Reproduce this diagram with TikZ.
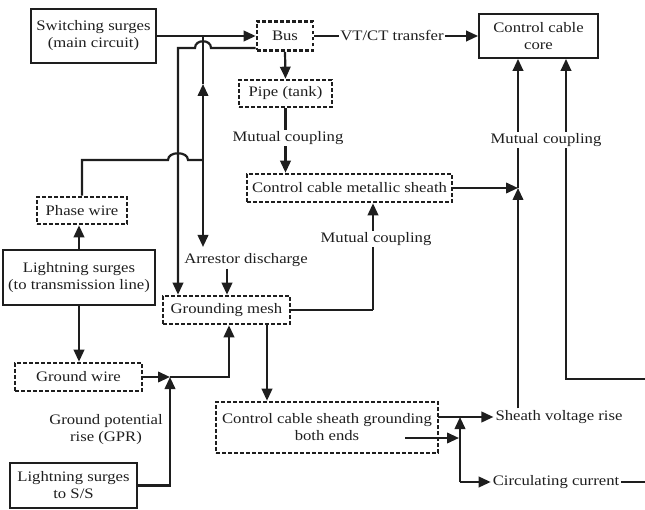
\documentclass[tikz,border=0pt]{standalone}
\usepackage{fontspec}
\setmainfont{Liberation Serif}[FakeStretch=1.15]
\usetikzlibrary{arrows.meta,calc}
\definecolor{ink}{RGB}{30,30,30}
\begin{document}
\begin{tikzpicture}[x=1pt,y=-1pt,
  font=\fontsize{14.5}{17}\selectfont,
  color=ink, line width=2.2pt,
  arr/.style={-{Triangle[length=12pt,width=10.5pt]}},
  solidbox/.style={draw, line width=1.8pt, align=center, inner sep=0pt},
  dashbox/.style={draw, line width=2.6pt, dash pattern=on 3.6pt off 2.4pt, align=center, inner sep=0pt},
  lbl/.style={align=center, inner sep=1pt},
  cut/.style={fill=white, inner sep=1.5pt}
]
\useasboundingbox (0,0) rectangle (645,510);

% boxes
\node[solidbox, minimum width=125pt, minimum height=54pt] (ss) at (93.5,36) {Switching surges\\(main circuit)};
\node[dashbox, minimum width=56pt, minimum height=29pt] (bus) at (285,36) {Bus};
\node[solidbox, minimum width=119pt, minimum height=44pt] (core) at (538.5,36) {Control cable\\core};
\node[dashbox, minimum width=93pt, minimum height=27pt] (pipe) at (285.5,93.5) {Pipe (tank)};
\node[dashbox, minimum width=205pt, minimum height=28pt] (sheath) at (349.5,188) {Control cable metallic sheath};
\node[dashbox, minimum width=90pt, minimum height=27pt] (phase) at (82,210.5) {Phase wire};
\node[solidbox, minimum width=152pt, minimum height=55pt] (lt) at (79,277.5) {Lightning surges\\(to transmission line)};
\node[dashbox, minimum width=127pt, minimum height=28pt] (mesh) at (226.5,310) {Grounding mesh};
\node[dashbox, minimum width=127pt, minimum height=28pt] (gw) at (78.5,377) {Ground wire};
\node[solidbox, minimum width=127pt, minimum height=45pt] (ls) at (73.5,485.5) {Lightning surges\\to S/S};
\node[dashbox, minimum width=222pt, minimum height=51pt] (sg) at (327,427.5) {Control cable sheath grounding\\both ends};

% free labels
\node[lbl] (arrest) at (246,260) {Arrestor discharge};
\node[lbl] (gpr) at (106,430) {Ground potential\\rise (GPR)};
\node[lbl] (svr) at (559,417) {Sheath voltage rise};
\node[lbl] (cc) at (556,482) {Circulating current};

% helper coordinates
\coordinate (xA) at (178,0);
\coordinate (xB) at (227,0);
\coordinate (xC) at (373,0);
\coordinate (xD) at (267,0);
\coordinate (xE) at (229,0);
\coordinate (xF) at (518,0);
\coordinate (xG) at (566,0);
\coordinate (J0) at (203,160);
\coordinate (Jup) at (203,84);
\coordinate (Jtop) at (203,36);
\coordinate (Jdn) at (203,247);
\coordinate (J1) at (518,188);
\coordinate (J2) at (460,417);
\coordinate (J3) at (460,482);
\coordinate (J4) at (170,377);
\coordinate (lsTurn) at (170,485.5);
\coordinate (gwTurn) at (229,377);
\coordinate (meshTurn) at (373,310);
\coordinate (loopIn) at (645,379);
\coordinate (loopTurn) at (566,379);
\coordinate (ccOut) at (645,482);
\coordinate (sgOut) at (438,417);
\coordinate (endsIn) at (405,438);
\coordinate (endsTip) at (459,438);

% main circuit
\draw[arr] (ss.east) -- (bus.west);
\draw[arr] (bus.east) -- (core.west);
\node[cut] (vtct) at (392,36) {VT/CT transfer};
\draw[arr] (bus.south) -- (pipe.north);
\draw[arr] (pipe.south) -- (pipe.south |- sheath.north);
\node[cut] (mc1) at (288,138) {Mutual coupling};

% bus to grounding mesh, hopping over the surge riser
\draw[arr] ($(bus.west)+(0,12)$) -- (211,48) .. controls (211,39) and (195,39) .. (195,48)
  -- (xA |- 0,48) -- (xA |- mesh.north);

% phase wire feed, hopping over the bus return
\draw (phase.north) -- (82,160) -- (168,160) .. controls (168,151) and (188,151) .. (188,160) -- (J0);
\draw[arr] (J0) -- (Jup);
\draw (Jup) -- (Jtop);
\draw[arr] (J0) -- (Jdn);

% grounding mesh inputs and outputs
\draw[arr] (arrest.south -| xB) -- (xB |- mesh.north);
\draw (mesh.east |- meshTurn) -- (meshTurn);
\draw[arr] (meshTurn) -- (xC |- sheath.south);
\node[cut] (mc3) at (376,239) {Mutual coupling};
\draw[arr] (xD |- mesh.south) -- (xD |- sg.north);

% lightning surges
\draw[arr] (lt.north) -- (lt.north |- phase.south);
\draw[arr] (lt.south) -- (lt.south |- gw.north);
\draw[arr] (gw.east) -- (J4);
\draw[arr] (ls.east) -- (lsTurn) -- (J4);
\draw[arr] (J4) -- (gwTurn) -- (xE |- mesh.south);

% control cable side
\draw[arr] (sheath.east) -- (J1);
\draw[arr] (svr.north -| xF) -- (J1);
\draw[arr] (J1) -- (xF |- core.south);
\draw[arr] (loopIn) -- (loopTurn) -- (xG |- core.south);
\node[cut] (mc2) at (546,140) {Mutual coupling};
\draw (cc.east) -- (ccOut);

% sheath grounding outputs
\draw[arr] (sgOut) -- (svr.west);
\draw[arr] (endsIn) -- (endsTip);
\draw[arr] (J3) -- (J2);
\draw[arr] (J3) -- (cc.west);
\end{tikzpicture}
\end{document}
